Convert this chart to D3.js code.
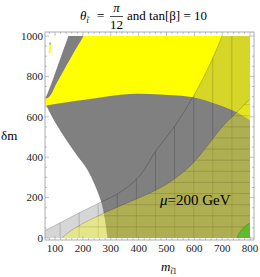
<!DOCTYPE html>
<html>
<head>
<meta charset="utf-8">
<script src="https://cdn.jsdelivr.net/npm/d3@7"></script>
<style>
body{margin:0;background:#fff;}
text{font-family:"Liberation Serif","DejaVu Serif",serif;}
</style>
</head>
<body>
<script>
// tick values
var xTicks = [100,200,300,400,500,600,700,800];
var yTicks = [0,200,400,600,800,1000];

// region boundaries as (m, dm) pairs
var whiteEdge = [[156,1050],[149,1000],[131,930],[112,856],[95,790],[78,728],[66,680],[78,634],[130,510],[179,411],[218,337],[265,188],[280,94],[290,0],[293,-20]];
var yellowLeft = [[205,1020],[201.6,1000],[170,925],[139.5,851],[108,772],[78.5,698],[60,688]];
var yellowLow = [[60,651],[78.5,658],[225.6,688],[369,713],[477,711],[595,696.5],[667,668],[752,622],[806,576],[830,550]];
var hatchEdge = [[40,25],[64,37],[164.6,109],[267.6,179.7],[320,215],[369,262],[412,322],[459,426],[530,555],[595,698],[649,840],[699,1000],[710,1050]];
var stripEdge = [[830,710],[806,694.5],[752,622],[699.4,549.5],[662.5,485],[620.5,411],[584.6,356],[512.8,277],[441,223],[369,180],[261.5,114],[171.8,49.5],[125,0],[115,-20]];
var greenEdge = [[753,-10],[753,0],[764,30],[779,54],[800,74],[820,78]];
var sliverYellow = [[78,913],[80,955],[84,958],[84,915]];
var sliverGreen = [[80,955],[81,970],[84,968],[84,958]];
var meshX = [118,186.5,255,323.6,392,460.7,529,597.7,666,734.6];
var meshY = [55,110,165,220,275,330,385,440,495,550,605,660];

var width = 260, height = 277;

var x = d3.scaleLinear().domain([64,814]).range([45,254]);
var y = d3.scaleLinear().domain([-10,1020]).range([240,32]);

var svg = d3.select("body").append("svg")
    .attr("width",width)
    .attr("height",height);

var line = d3.line().curve(d3.curveCatmullRom).x(function(d){return x(d[0]);}).y(function(d){return y(d[1]);});

function corners(pts){
    return pts.map(function(p){return "L"+x(p[0])+","+y(p[1]);}).join("");
}
function region(edge, pts){
    return line(edge) + corners(pts) + "Z";
}

var defs = svg.append("defs");
defs.append("clipPath").attr("id","plotclip").append("rect")
    .attr("x",x(64)).attr("y",y(1000))
    .attr("width",x(800)-x(64)).attr("height",y(0)-y(1000));

var hatchPath = region(hatchEdge, [[900,1050],[900,-20],[40,-20]]);
var stripPath = region(stripEdge, [[40,-20],[40,-30],[900,-30],[900,710]]);

defs.append("clipPath").attr("id","hatchclip").append("path").attr("d",hatchPath);
defs.append("clipPath").attr("id","stripclip").append("path").attr("d",stripPath);

var plot = svg.append("g").attr("clip-path","url(#plotclip)");

// grey area right of the white region
plot.append("path")
    .attr("d",region(whiteEdge,[[900,-20],[900,1050]]))
    .attr("fill","#808080")
    .attr("stroke","#6a6a6a")
    .attr("stroke-width",0.6);

// yellow area
plot.append("path")
    .attr("d",line(yellowLow) + corners([[900,550],[900,1050],[205,1050]]) + line(yellowLeft).replace(/^M/,"L") + "Z")
    .attr("fill","#ffff00");

plot.append("path").attr("d",region(sliverYellow,[])).attr("fill","#ffff00");
plot.append("path").attr("d",region(sliverGreen,[])).attr("fill","#66bb33");

// light grey hatched overlay
plot.append("path")
    .attr("d",hatchPath)
    .attr("fill","#808080")
    .attr("fill-opacity",0.32);

plot.append("g").attr("clip-path","url(#hatchclip)")
    .selectAll("line")
    .data(meshX).enter()
    .append("line")
    .attr("x1",function(d){return x(d);})
    .attr("x2",function(d){return x(d);})
    .attr("y1",y(-20)).attr("y2",y(1050))
    .attr("stroke","#000").attr("stroke-opacity",0.25).attr("stroke-width",0.7);

// yellow translucent strip region
plot.append("path")
    .attr("d",stripPath)
    .attr("fill","#ffff00")
    .attr("fill-opacity",0.36);

plot.append("g").attr("clip-path","url(#stripclip)")
    .selectAll("line")
    .data(meshY).enter()
    .append("line")
    .attr("y1",function(d){return y(d);})
    .attr("y2",function(d){return y(d);})
    .attr("x1",x(40)).attr("x2",x(900))
    .attr("stroke","#000").attr("stroke-opacity",0.18).attr("stroke-width",0.7);

// region edges
plot.append("path").attr("d",line(hatchEdge)).attr("fill","none")
    .attr("stroke","#000").attr("stroke-opacity",0.35).attr("stroke-width",0.6);
plot.append("path").attr("d",line(stripEdge)).attr("fill","none")
    .attr("stroke","#000").attr("stroke-opacity",0.3).attr("stroke-width",0.6);

// green corner
plot.append("path")
    .attr("d",region(greenEdge,[[820,-10]]))
    .attr("fill","#5fba2e")
    .attr("stroke","#3f8a1c")
    .attr("stroke-width",0.6);

// frame
var frame = svg.append("g");
frame.append("rect")
    .attr("x",45).attr("y",32).attr("width",209).attr("height",208)
    .attr("fill","none").attr("stroke","#999").attr("stroke-width",0.8);

var xMinor = d3.range(80,814,20);
var yMinor = d3.range(0,1001,50);

frame.selectAll(".xt").data(xMinor).enter().append("line")
    .attr("x1",function(d){return x(d);}).attr("x2",function(d){return x(d);})
    .attr("y1",240).attr("y2",function(d){return d%100==0 ? 236 : 238;})
    .attr("stroke","#999").attr("stroke-width",0.6);
frame.selectAll(".xtt").data(xMinor).enter().append("line")
    .attr("x1",function(d){return x(d);}).attr("x2",function(d){return x(d);})
    .attr("y1",32).attr("y2",function(d){return d%100==0 ? 36 : 34;})
    .attr("stroke","#999").attr("stroke-width",0.6);
frame.selectAll(".yt").data(yMinor).enter().append("line")
    .attr("y1",function(d){return y(d);}).attr("y2",function(d){return y(d);})
    .attr("x1",45).attr("x2",function(d){return d%200==0 ? 49 : 47;})
    .attr("stroke","#999").attr("stroke-width",0.6);
frame.selectAll(".ytr").data(yMinor).enter().append("line")
    .attr("y1",function(d){return y(d);}).attr("y2",function(d){return y(d);})
    .attr("x1",254).attr("x2",function(d){return d%200==0 ? 250 : 252;})
    .attr("stroke","#999").attr("stroke-width",0.6);

svg.selectAll(".xl").data(xTicks).enter().append("text")
    .attr("x",function(d){return x(d);})
    .attr("y",252)
    .attr("text-anchor","middle")
    .attr("font-size",11)
    .attr("fill","#222")
    .text(function(d){return d;});

svg.selectAll(".yl").data(yTicks).enter().append("text")
    .attr("x",43)
    .attr("y",function(d){return y(d)+3.8;})
    .attr("text-anchor","end")
    .attr("font-size",11)
    .attr("fill","#222")
    .text(function(d){return d;});

// axis labels
svg.append("text").attr("x",1).attr("y",140).attr("font-size",13).text("δm");

var xl = svg.append("text").attr("x",161).attr("y",271).attr("font-size",13);
xl.append("tspan").attr("font-style","italic").text("m");
xl.append("tspan").attr("font-size",8).attr("dy",3).attr("font-style","italic").text("t\u0303");
xl.append("tspan").attr("font-size",8).text("1");

// title
var t1 = svg.append("text").attr("x",80).attr("y",20).attr("font-size",13);
t1.append("tspan").attr("font-style","italic").text("θ");
t1.append("tspan").attr("font-size",8).attr("dy",3).attr("font-style","italic").text("t\u0303");
svg.append("text").attr("x",97).attr("y",20).attr("font-size",13).text("=");
svg.append("text").attr("x",116.5).attr("y",12).attr("font-size",13).attr("text-anchor","middle").attr("font-style","italic").text("π");
svg.append("line").attr("x1",110).attr("x2",123).attr("y1",16.5).attr("y2",16.5).attr("stroke","#000").attr("stroke-width",0.7);
svg.append("text").attr("x",116.5).attr("y",28.5).attr("font-size",13).attr("text-anchor","middle").text("12");
svg.append("text").attr("x",127).attr("y",20).attr("font-size",13).text("and tan[β] = 10");

// annotation
var mu = svg.append("text").attr("x",160).attr("y",205).attr("font-size",15);
mu.append("tspan").attr("font-style","italic").text("μ");
mu.append("tspan").text("=200 GeV");
</script>
</body>
</html>
